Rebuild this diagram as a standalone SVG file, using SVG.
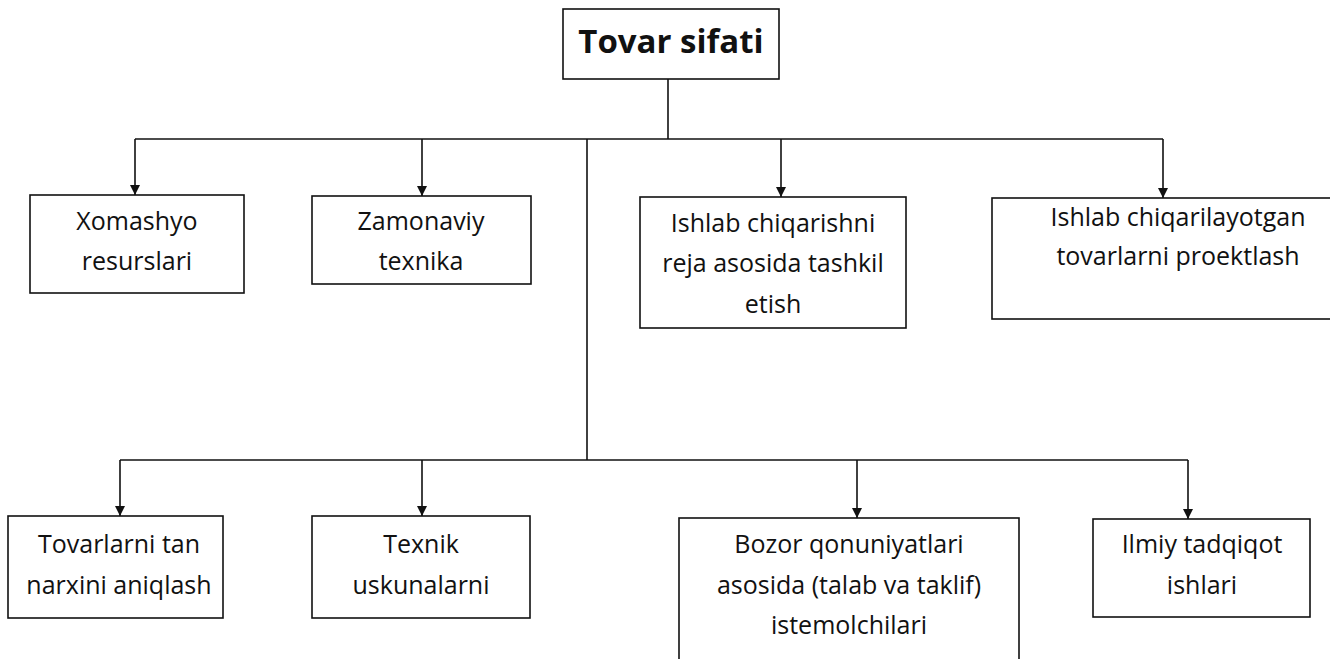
<svg xmlns="http://www.w3.org/2000/svg" width="1330" height="659" viewBox="0 0 1330 659">
  <style>
    .box { fill: #ffffff; stroke: #111111; stroke-width: 1.6; }
    .lbl { font-family: "Open Sans", Lato, sans-serif; font-size: 25px; fill: #111111; text-anchor: middle; }
    .ttl { font-family: "Open Sans", Lato, sans-serif; font-size: 33px; font-weight: bold; fill: #111111; text-anchor: middle; }
    .wire { fill: none; stroke: #111111; stroke-width: 1.6; }
  </style>
  <defs>
    <marker id="arrow" viewBox="0 0 10 10" refX="10" refY="5" markerWidth="11" markerHeight="10" markerUnits="userSpaceOnUse" orient="auto">
      <path d="M0,0 L10,5 L0,10 Z" fill="#111111"/>
    </marker>
  </defs>

  <rect width="1330" height="659" fill="#ffffff"/>

  <g id="connectors">
    <!-- stem from the title down to the upper bus -->
    <line class="wire" x1="668" y1="79" x2="668" y2="139"/>
    <!-- upper bus -->
    <line class="wire" x1="135" y1="139" x2="1163" y2="139"/>
    <!-- spine down to the lower bus -->
    <line class="wire" x1="587" y1="139" x2="587" y2="460"/>
    <!-- lower bus -->
    <line class="wire" x1="120" y1="460" x2="1188" y2="460"/>
    <!-- upper drops -->
    <line class="wire" x1="135" y1="139" x2="135" y2="195" marker-end="url(#arrow)"/>
    <line class="wire" x1="422" y1="139" x2="422" y2="196" marker-end="url(#arrow)"/>
    <line class="wire" x1="781" y1="139" x2="781" y2="197" marker-end="url(#arrow)"/>
    <line class="wire" x1="1163" y1="139" x2="1163" y2="198" marker-end="url(#arrow)"/>
    <!-- lower drops -->
    <line class="wire" x1="120" y1="460" x2="120" y2="516" marker-end="url(#arrow)"/>
    <line class="wire" x1="422" y1="460" x2="422" y2="516" marker-end="url(#arrow)"/>
    <line class="wire" x1="857" y1="460" x2="857" y2="518" marker-end="url(#arrow)"/>
    <line class="wire" x1="1188" y1="460" x2="1188" y2="519" marker-end="url(#arrow)"/>
  </g>

  <g id="title">
    <rect class="box" x="563" y="9" width="216" height="70"/>
    <text class="ttl" x="671" y="53">Tovar sifati</text>
  </g>

  <g id="xomashyo">
    <rect class="box" x="30" y="195" width="214" height="98"/>
    <text class="lbl" x="137" y="230">Xomashyo</text>
    <text class="lbl" x="137" y="270">resurslari</text>
  </g>

  <g id="zamonaviy">
    <rect class="box" x="312" y="196" width="219" height="88"/>
    <text class="lbl" x="421" y="230">Zamonaviy</text>
    <text class="lbl" x="421" y="270">texnika</text>
  </g>

  <g id="reja">
    <rect class="box" x="640" y="197" width="266" height="131"/>
    <text class="lbl" x="773" y="232">Ishlab chiqarishni</text>
    <text class="lbl" x="773" y="272">reja asosida tashkil</text>
    <text class="lbl" x="773" y="313">etish</text>
  </g>

  <g id="proektlash">
    <rect class="box" x="992" y="198" width="345" height="121"/>
    <text class="lbl" x="1178" y="226">Ishlab chiqarilayotgan</text>
    <text class="lbl" x="1178" y="265">tovarlarni proektlash</text>
  </g>

  <g id="tannarx">
    <rect class="box" x="8" y="516" width="215" height="102"/>
    <text class="lbl" x="119" y="553">Tovarlarni tan</text>
    <text class="lbl" x="119" y="594">narxini aniqlash</text>
  </g>

  <g id="uskunalar">
    <rect class="box" x="312" y="516" width="218" height="102"/>
    <text class="lbl" x="421" y="553">Texnik</text>
    <text class="lbl" x="421" y="594">uskunalarni</text>
  </g>

  <g id="bozor">
    <rect class="box" x="679" y="518" width="340" height="150"/>
    <text class="lbl" x="849" y="553">Bozor qonuniyatlari</text>
    <text class="lbl" x="849" y="594">asosida (talab va taklif)</text>
    <text class="lbl" x="849" y="634">istemolchilari</text>
  </g>

  <g id="tadqiqot">
    <rect class="box" x="1093" y="519" width="217" height="98"/>
    <text class="lbl" x="1202" y="553">Ilmiy tadqiqot</text>
    <text class="lbl" x="1202" y="594">ishlari</text>
  </g>
</svg>
